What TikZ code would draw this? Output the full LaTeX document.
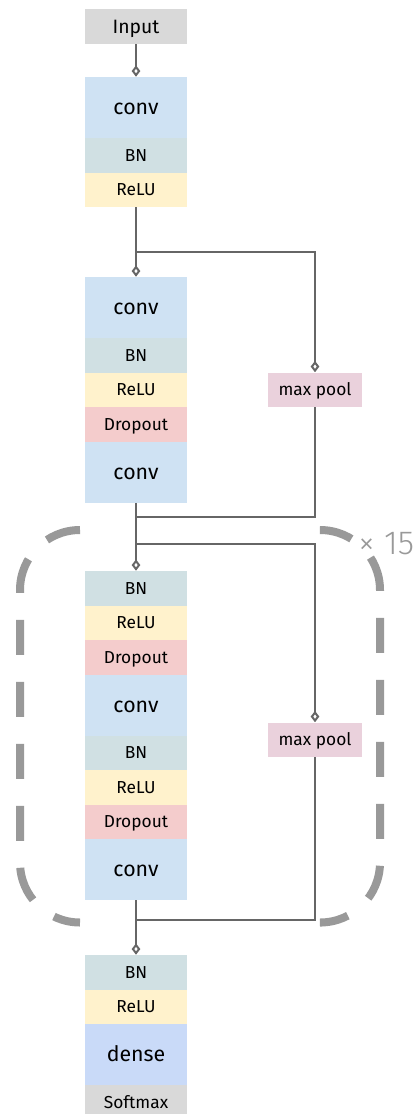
\documentclass[tikz,border=0pt]{standalone}
\usepackage{fontspec}
\setmainfont{Fira Sans}
\newfontfamily\lightfont{Fira Sans Light}
\usetikzlibrary{arrows.meta}

\definecolor{greyfill}{HTML}{D9D9D9}
\definecolor{convfill}{HTML}{CFE2F3}
\definecolor{bnfill}{HTML}{D0E0E3}
\definecolor{relufill}{HTML}{FFF2CC}
\definecolor{dropfill}{HTML}{F4CCCC}
\definecolor{densefill}{HTML}{C9DAF8}
\definecolor{poolfill}{HTML}{EAD1DC}
\definecolor{wiregrey}{HTML}{666666}
\definecolor{loopgrey}{HTML}{999999}

\begin{document}
\begin{tikzpicture}[x=0.75pt, y=-0.75pt,
  layer/.style={inner sep=0pt, minimum width=76.5pt, text height=9pt, text depth=0pt, font=\fontsize{13}{15}\selectfont},
  shortlayer/.style={layer, minimum height=25.875pt},
  talllayer/.style={layer, minimum height=45.75pt, text height=11pt, font=\fontsize{16}{19}\selectfont},
  convbox/.style={talllayer, fill=convfill},
  densebox/.style={talllayer, fill=densefill},
  bnbox/.style={shortlayer, fill=bnfill},
  relubox/.style={shortlayer, fill=relufill},
  dropbox/.style={shortlayer, fill=dropfill},
  greybox/.style={shortlayer, fill=greyfill},
  poolbox/.style={shortlayer, minimum width=70.5pt, fill=poolfill},
  wire/.style={draw=wiregrey, line width=1.5pt},
  link/.style={wire, -{Diamond[open, length=8.5pt, width=6.5pt]}},
  loopbracket/.style={draw=loopgrey, line width=6pt, rounded corners=45pt, dash pattern=on 26.25pt off 20.25pt}]
\useasboundingbox (0,0) rectangle (416,1114);
% Input and first conv block
\node[greybox, text height=10pt, font=\fontsize{14.5}{17}\selectfont] (input) at (136,26.5) {Input};
\node[convbox] (conv1) at (136,107.5) {conv};
\node[bnbox] (bn1) at (136,155.25) {BN};
\node[relubox] (relu1) at (136,189.75) {ReLU};
% Second block with its pooled shortcut
\node[convbox] (conv2) at (136,307.5) {conv};
\node[bnbox] (bn2) at (136,355.25) {BN};
\node[relubox] (relu2) at (136,389.75) {ReLU};
\node[dropbox] (drop2) at (136,424.25) {Dropout};
\node[convbox] (conv3) at (136,472) {conv};
\node[poolbox] (pool1) at (315,389.75) {max pool};
% Repeated block
\node[bnbox] (bn3) at (136,588.25) {BN};
\node[relubox] (relu3) at (136,622.75) {ReLU};
\node[dropbox] (drop3) at (136,657.25) {Dropout};
\node[convbox] (conv4) at (136,705) {conv};
\node[bnbox] (bn4) at (136,752.75) {BN};
\node[relubox] (relu4) at (136,787.25) {ReLU};
\node[dropbox] (drop4) at (136,821.75) {Dropout};
\node[convbox] (conv5) at (136,869.5) {conv};
\node[poolbox] (pool2) at (315,739.75) {max pool};
% Output head
\node[bnbox] (bn5) at (136,972.25) {BN};
\node[relubox] (relu5) at (136,1006.75) {ReLU};
\node[densebox] (dense) at (136,1054.5) {dense};
\node[greybox] (softmax) at (136,1102.5) {Softmax};
% Branch and merge points
\coordinate (split1) at (136,252);
\coordinate (merge1) at (136,517);
\coordinate (split2) at (136,544);
\coordinate (merge2) at (136,920);
% Connectors
\draw[link] (input) -- (conv1);
\draw[link] (relu1) -- (conv2);
\draw[link] (split1) -| (pool1);
\draw[wire] (pool1) |- (merge1);
\draw[link] (conv3) -- (bn3);
\draw[link] (split2) -| (pool2);
\draw[wire] (pool2) |- (merge2);
\draw[link] (conv5) -- (bn5);
% Loop brackets round the repeated block
\draw[loopbracket] (80,530) -- (20,530) -- (20,922.5) -- (80,922.5);
\draw[loopbracket] (322,530) -- (380,530) -- (380,922.5) -- (322,922.5);
\node[anchor=west, inner sep=0pt, text=loopgrey, font=\lightfont\fontsize{25}{28}\selectfont] (repeat) at (358,544) {× 15};
\end{tikzpicture}
\end{document}
